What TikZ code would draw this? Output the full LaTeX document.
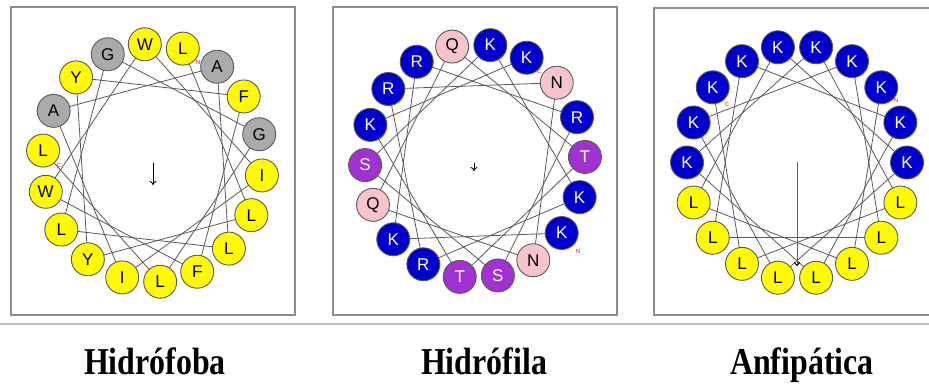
\documentclass[tikz,border=0pt]{standalone}
\usepackage{fontspec}
\setmainfont{Liberation Serif}
\newfontfamily\resfont{Liberation Sans}
\usepackage{graphicx}
\usetikzlibrary{arrows.meta,backgrounds}
\definecolor{yellowc}{RGB}{255,250,0}
\definecolor{grayc}{RGB}{170,170,170}
\definecolor{bluec}{RGB}{0,0,205}
\definecolor{pinkc}{RGB}{248,196,204}
\definecolor{purplec}{RGB}{160,50,210}
\tikzset{
 res/.style={circle, draw=black!65, line width=0.9pt, minimum size=33pt, inner sep=0pt, font=\resfont\fontsize{17}{17}\selectfont},
 hy/.style={res, fill=yellowc, text=black},
 gr/.style={res, fill=grayc, text=black},
 bl/.style={res, fill=bluec, text=white},
 pk/.style={res, fill=pinkc, text=black},
 pu/.style={res, fill=purplec, text=white},
 chord/.style={draw=black!65, line width=0.8pt},
 panel/.style={draw=black!45, line width=1.3pt},
 sep/.style={draw=black!25, line width=1.2pt},
 term/.style={text=red, font=\resfont\fontsize{6}{6}\selectfont, inner sep=0pt},
 caption/.style={font=\bfseries\fontsize{38}{38}\selectfont, inner sep=0pt, anchor=base},
 moment/.style={draw=black, line width=0.9pt, -{To[length=4pt,width=7pt]}}
}
\begin{document}
\begin{tikzpicture}[x=1pt,y=-1pt]
\useasboundingbox (0,0) rectangle (929,384);
% panels
\draw[panel] (11,7) rectangle (295,315);
\draw[panel] (333,7) rectangle (617,315);
\draw[panel] (654,8) rectangle (945,315);
\draw[sep] (0,324) -- (929,324);

% panel 1
\foreach \s/\l [count=\k from 0] in {hy/W,hy/L,gr/A,hy/F,gr/G,hy/I,hy/L,hy/L,hy/F,hy/L,hy/I,hy/Y,hy/L,hy/W,hy/L,gr/A,hy/Y,gr/G}
  \node[\s] (pa-\k) at ({152.5+110*sin(-4+20*\k)},{163-119*cos(-4+20*\k)}) {\l};
% panel 2
\foreach \s/\l [count=\k from 0] in {pk/Q,bl/K,bl/K,pk/N,bl/R,pu/T,bl/K,bl/K,pk/N,pu/S,pu/T,bl/R,bl/K,pk/Q,pu/S,bl/K,bl/R,bl/R}
  \node[\s] (pb-\k) at ({475+110*sin(-12+20*\k)},{161-117*cos(-12+20*\k)}) {\l};
% panel 3
\foreach \s/\l [count=\k from 0] in {bl/K,bl/K,bl/K,bl/K,bl/K,bl/K,hy/L,hy/L,hy/L,hy/L,hy/L,hy/L,hy/L,hy/L,bl/K,bl/K,bl/K,bl/K}
  \node[\s] (pc-\k) at ({797+110*sin(-10+20*\k)},{162.5-117*cos(-10+20*\k)}) {\l};

\begin{pgfonlayer}{background}
\foreach \p/\st in {pa/1,pb/7,pc/3}{
  \foreach \i in {0,...,16}{
    \pgfmathtruncatemacro\ea{mod(\st+5*\i,18)}
    \pgfmathtruncatemacro\eb{mod(\st+5*\i+5,18)}
    \draw[chord] (\p-\ea.center) -- (\p-\eb.center);
  }
}
\end{pgfonlayer}

% terminus marks
\node[term] (na) at (198,62) {N};
\node[term] (ca) at (59,165) {C};
\node[term] (nb) at (578,251) {N};
\node[term] (cb) at (539,71) {C};
\node[term] (nc) at (896,100) {N};
\node[term] (cc) at (727,104) {C};

% hydrophobic moments
\coordinate (ma1) at (153,163);
\coordinate (ma2) at (153,185);
\draw[moment] (ma1) -- (ma2);
\coordinate (mb1) at (474,163);
\coordinate (mb2) at (474,171);
\draw[moment] (mb1) -- (mb2);
\coordinate (mc1) at (797,162);
\coordinate (mc2) at (797,266);
\draw[draw=black!60, line width=1pt, -{To[length=4pt,width=6pt,color=black]}] (mc1) -- (mc2);

% captions
\node[caption] (t1) at (155,374) {\scalebox{0.84}[1]{Hidrófoba}};
\node[caption] (t2) at (484,374) {\scalebox{0.84}[1]{Hidrófila}};
\node[caption] (t3) at (802,374) {\scalebox{0.84}[1]{Anfipática}};
\end{tikzpicture}
\end{document}
